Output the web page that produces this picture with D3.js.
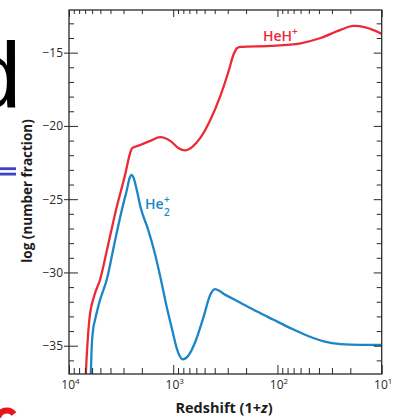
<!DOCTYPE html>
<html>
<head>
<meta charset="utf-8">
<script src="https://cdn.jsdelivr.net/npm/d3@7"></script>
<style>
  body { margin: 0; background: #fff; }
  svg { display: block; }
</style>
</head>
<body>
<script>
// redshift (1+z) and log(number fraction)
var heHz = [6950, 6792, 6668, 6383, 5754, 5035, 4217, 3475, 2897, 2588, 2477, 2075, 1663, 1334, 1069, 895, 767, 656, 550, 441, 353, 296, 265, 245, 227, 117, 60, 38.6, 24.8, 18.6, 14.3, 10];
var heHv = [-37.5, -35.96, -35.0, -33.23, -31.64, -30.5, -28.12, -25.5, -23.34, -21.84, -21.52, -21.3, -21.02, -20.77, -21.02, -21.5, -21.67, -21.43, -20.82, -19.59, -17.95, -16.32, -15.16, -14.7, -14.61, -14.54, -14.36, -14.0, -13.45, -13.18, -13.28, -13.72];

var he2z = [6310, 6180, 6053, 5875, 5623, 5035, 4345, 3690, 3112, 2786, 2618, 2518, 2399, 2218, 2051, 1738, 1489, 1312, 1167, 1023, 916, 807, 718, 614, 515, 441, 399, 316, 227, 157, 109, 75, 51.5, 35.9, 24.8, 15.9, 10];
var he2v = [-37.5, -36.91, -35.05, -33.92, -33.23, -31.87, -30.5, -28.12, -25.73, -24.37, -23.55, -23.34, -23.55, -24.5, -25.59, -27.09, -28.79, -30.5, -32.21, -33.92, -35.28, -35.93, -35.69, -34.73, -33.1, -31.53, -31.14, -31.53, -32.07, -32.67, -33.23, -33.8, -34.32, -34.71, -34.89, -34.94, -34.94];

var yMajor = [-15, -20, -25, -30, -35];
var yMinor = [-13, -14, -16, -17, -18, -19, -21, -22, -23, -24, -26, -27, -28, -29, -31, -32, -33, -34, -36];
var xMajor = [10000, 1000, 100, 10];
var xExp = ["4", "3", "2", "1"];

var width = 399, height = 418;
// plot box edges (note: "top" is reserved on window, so keep them in an object)
var box = { left: 69, right: 381.7, top: 10, bottom: 374 };

var red = "#ec2a36", blue = "#1a86c8", ink = "#2b2a2a";

var svg = d3.select("body").append("svg")
    .attr("width", width)
    .attr("height", height);

var x = d3.scaleLog().domain([10000, 10]).range([box.left, box.right]);
var y = d3.scaleLinear().domain([-36.93, -12.09]).range([box.bottom, box.top]);

// stray bits of the slide behind the figure
svg.append("text")
    .attr("x", -30).attr("y", 107)
    .style("font-family", "Liberation Sans")
    .style("font-size", "92px")
    .attr("fill", "#000")
    .text("d");
svg.append("rect").attr("x", 0).attr("y", 167.3).attr("width", 16).attr("height", 2.8).attr("fill", "#3b44c8");
svg.append("rect").attr("x", 0).attr("y", 172.7).attr("width", 16).attr("height", 2.8).attr("fill", "#3b44c8");
svg.append("path")
    .attr("d", "M-2,418 A9,9 0 0 1 14,414")
    .attr("fill", "none")
    .attr("stroke", "#e8141c")
    .attr("stroke-width", 6);

// clip for the curves
svg.append("clipPath").attr("id", "plot")
    .append("rect")
    .attr("x", box.left).attr("y", box.top)
    .attr("width", box.right - box.left).attr("height", box.bottom - box.top);

var line = d3.line()
    .x(d => x(d[0]))
    .y(d => y(d[1]))
    .curve(d3.curveMonotoneX);

var curves = svg.append("g").attr("clip-path", "url(#plot)");
curves.append("path")
    .datum(heHz.map((z, i) => [z, heHv[i]]))
    .attr("d", line)
    .attr("fill", "none")
    .attr("stroke", red)
    .attr("stroke-width", 2.3);
curves.append("path")
    .datum(he2z.map((z, i) => [z, he2v[i]]))
    .attr("d", line)
    .attr("fill", "none")
    .attr("stroke", blue)
    .attr("stroke-width", 2.3);

// axes
var xMinor = x.ticks().filter(d => xMajor.indexOf(d) < 0);

function styleAxis(g) {
    g.select(".domain").remove();
    g.selectAll(".tick line").attr("stroke", ink).attr("stroke-width", 1);
}

// left
var gl = svg.append("g").attr("transform", `translate(${box.left},0)`)
    .call(d3.axisLeft(y).tickValues(yMajor).tickSize(0).tickPadding(6)
        .tickFormat(d => "\u2212" + Math.abs(d)))
    .call(styleAxis);
gl.selectAll(".tick line").attr("x1", -5).attr("x2", 9);
gl.selectAll(".tick text")
    .attr("x", -6)
    .style("font-family", "Open Sans")
    .style("font-size", "12px")
    .attr("fill", ink);
svg.append("g").attr("transform", `translate(${box.left},0)`)
    .call(d3.axisLeft(y).tickValues(yMinor).tickSize(-5).tickFormat(""))
    .call(styleAxis);

// right
svg.append("g").attr("transform", `translate(${box.right},0)`)
    .call(d3.axisRight(y).tickValues(yMajor).tickSize(-8).tickFormat(""))
    .call(styleAxis);
svg.append("g").attr("transform", `translate(${box.right},0)`)
    .call(d3.axisRight(y).tickValues(yMinor).tickSize(-5).tickFormat(""))
    .call(styleAxis);

// bottom
svg.append("g").attr("transform", `translate(0,${box.bottom})`)
    .call(d3.axisBottom(x).tickValues(xMajor).tickSize(-9).tickFormat(""))
    .call(styleAxis);
svg.append("g").attr("transform", `translate(0,${box.bottom})`)
    .call(d3.axisBottom(x).tickValues(xMinor).tickSize(-6).tickFormat(""))
    .call(styleAxis);

// top
svg.append("g").attr("transform", `translate(0,${box.top})`)
    .call(d3.axisTop(x).tickValues(xMajor).tickSize(-7).tickFormat(""))
    .call(styleAxis);
svg.append("g").attr("transform", `translate(0,${box.top})`)
    .call(d3.axisTop(x).tickValues(xMinor).tickSize(-4).tickFormat(""))
    .call(styleAxis);

// x tick labels as 10 with superscript exponent
var xl = svg.append("g")
    .style("font-family", "Open Sans")
    .style("font-size", "12px")
    .attr("fill", ink);
xMajor.forEach(function (v, i) {
    var t = xl.append("text")
        .attr("x", x(v) + 1.5)
        .attr("y", 389)
        .attr("text-anchor", "middle");
    t.append("tspan").text("10");
    t.append("tspan").attr("dy", -5).style("font-size", "8px").text(xExp[i]);
});

// frame
svg.append("rect")
    .attr("x", box.left).attr("y", box.top)
    .attr("width", box.right - box.left).attr("height", box.bottom - box.top)
    .attr("fill", "none")
    .attr("stroke", ink)
    .attr("stroke-width", 1.3);

// axis titles
var xt = svg.append("text")
    .attr("x", 224).attr("y", 413)
    .attr("text-anchor", "middle")
    .style("font-family", "Open Sans")
    .style("font-size", "14.5px")
    .style("font-weight", "bold")
    .attr("fill", "#1d1d1d");
xt.append("tspan").text("Redshift (1+");
xt.append("tspan").style("font-style", "italic").text("z");
xt.append("tspan").text(")");

svg.append("text")
    .attr("transform", "translate(32,191) rotate(-90)")
    .attr("text-anchor", "middle")
    .style("font-family", "Open Sans")
    .style("font-size", "13.5px")
    .style("font-weight", "bold")
    .attr("fill", "#1d1d1d")
    .text("log (number fraction)");

// series labels
var lab1 = svg.append("text")
    .attr("x", 263).attr("y", 41)
    .style("font-family", "Open Sans")
    .style("font-size", "14px")
    .style("font-weight", 600)
    .attr("fill", red);
lab1.append("tspan").text("HeH");
lab1.append("tspan").attr("dy", -6).style("font-size", "10px").text("+");

var he = svg.append("text")
    .attr("x", 145).attr("y", 209)
    .style("font-family", "Open Sans")
    .style("font-size", "14px")
    .style("font-weight", 600)
    .attr("fill", blue)
    .text("He");
var hw = he.node().getComputedTextLength();
svg.append("text")
    .attr("x", 145 + hw + 0.5).attr("y", 216)
    .style("font-family", "Open Sans")
    .style("font-size", "10px")
    .style("font-weight", 600)
    .attr("fill", blue)
    .text("2");
svg.append("text")
    .attr("x", 145 + hw + 0.5).attr("y", 203)
    .style("font-family", "Open Sans")
    .style("font-size", "10px")
    .style("font-weight", 600)
    .attr("fill", blue)
    .text("+");
</script>
</body>
</html>
